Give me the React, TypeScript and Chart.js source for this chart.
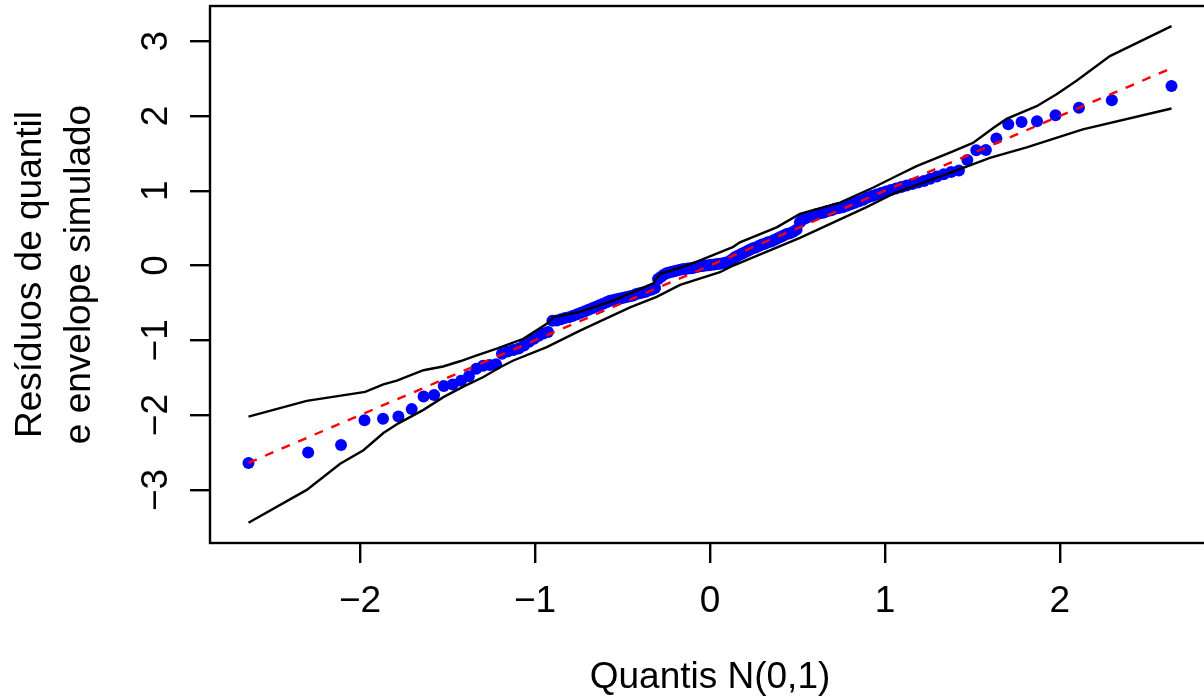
import { useEffect, useRef } from "react";
import { Chart, registerables } from "chart.js";

Chart.register(...registerables);

// Theoretical N(0,1) quantiles (x) of the 150 residuals
const quantiles = [
  -2.638, -2.297, -2.109, -1.975, -1.869, -1.781, -1.705, -1.637, -1.577, -1.522,
  -1.471, -1.423, -1.378, -1.336, -1.297, -1.259, -1.223, -1.189, -1.156, -1.124,
  -1.093, -1.063, -1.034, -1.006, -0.979, -0.952, -0.926, -0.901, -0.876, -0.852,
  -0.828, -0.805, -0.782, -0.759, -0.737, -0.715, -0.694, -0.673, -0.652, -0.632,
  -0.611, -0.591, -0.572, -0.552, -0.533, -0.514, -0.495, -0.476, -0.457, -0.439,
  -0.421, -0.403, -0.385, -0.367, -0.349, -0.331, -0.314, -0.297, -0.279, -0.262,
  -0.245, -0.228, -0.211, -0.194, -0.176, -0.159, -0.142, -0.126, -0.109, -0.092,
  -0.075, -0.058, -0.042, -0.025, -0.008,
  0.008, 0.025, 0.042, 0.058, 0.075, 0.092, 0.109, 0.126, 0.142, 0.159,
  0.176, 0.194, 0.211, 0.228, 0.245, 0.262, 0.279, 0.297, 0.314, 0.331,
  0.349, 0.367, 0.385, 0.403, 0.421, 0.439, 0.457, 0.476, 0.495, 0.514,
  0.533, 0.552, 0.572, 0.591, 0.611, 0.632, 0.652, 0.673, 0.694, 0.715,
  0.737, 0.759, 0.782, 0.805, 0.828, 0.852, 0.876, 0.901, 0.926, 0.952,
  0.979, 1.006, 1.034, 1.063, 1.093, 1.124, 1.156, 1.189, 1.223, 1.259,
  1.297, 1.336, 1.378, 1.423, 1.471, 1.522, 1.577, 1.637, 1.705, 1.781,
  1.869, 1.975, 2.109, 2.297, 2.638,
];

// Sorted quantile residuals (y)
const residuals = [
  -2.64, -2.5, -2.4, -2.07, -2.05, -2.02, -1.92, -1.75, -1.73, -1.61,
  -1.59, -1.54, -1.48, -1.38, -1.34, -1.33, -1.32, -1.18, -1.15, -1.13,
  -1.11, -1.07, -1.02, -0.98, -0.94, -0.91, -0.89, -0.74, -0.735, -0.72,
  -0.7, -0.69, -0.67, -0.65, -0.63, -0.61, -0.59, -0.57, -0.55, -0.53,
  -0.51, -0.49, -0.47, -0.46, -0.45, -0.44, -0.43, -0.42, -0.41, -0.4,
  -0.38, -0.37, -0.36, -0.35, -0.33, -0.32, -0.3, -0.18, -0.15, -0.12,
  -0.1, -0.09, -0.08, -0.07, -0.06, -0.05, -0.045, -0.04, -0.035, -0.03,
  -0.02, -0.01, -0.005, 0.0, 0.005,
  0.01, 0.015, 0.02, 0.025, 0.03, 0.04, 0.05, 0.08, 0.11, 0.13,
  0.15, 0.17, 0.19, 0.21, 0.23, 0.24, 0.26, 0.28, 0.29, 0.31,
  0.32, 0.34, 0.36, 0.38, 0.4, 0.42, 0.43, 0.45, 0.48, 0.58,
  0.62, 0.64, 0.66, 0.67, 0.69, 0.7, 0.71, 0.73, 0.74, 0.76,
  0.77, 0.78, 0.8, 0.82, 0.84, 0.86, 0.88, 0.91, 0.93, 0.95,
  0.97, 0.99, 1.01, 1.03, 1.05, 1.07, 1.09, 1.11, 1.13, 1.16,
  1.19, 1.22, 1.25, 1.27, 1.41, 1.54, 1.545, 1.7, 1.89, 1.92,
  1.93, 2.01, 2.11, 2.21, 2.4,
];

// Simulated envelope
const upperX = [
  -2.638, -2.305, -1.971, -1.867, -1.79, -1.638, -1.526, -1.429, -1.333, -1.219,
  -1.067, -0.933, -0.895, -0.743, -0.553, -0.324, -0.286, -0.171, -0.057, 0.133,
  0.171, 0.381, 0.514, 0.743, 0.931, 1.086, 1.181, 1.371, 1.503, 1.619,
  1.695, 1.867, 1.981, 2.095, 2.286, 2.638,
];
const upperY = [
  -2.02, -1.81, -1.69, -1.59, -1.54, -1.4, -1.35, -1.28, -1.2, -1.11,
  -0.98, -0.78, -0.69, -0.62, -0.47, -0.24, -0.11, -0.03, 0.07, 0.25,
  0.31, 0.51, 0.69, 0.84, 1.04, 1.22, 1.33, 1.51, 1.64, 1.84,
  1.96, 2.13, 2.29, 2.47, 2.8, 3.2,
];
const lowerX = [
  -2.638, -2.305, -2.114, -1.981, -1.867, -1.781, -1.638, -1.524, -1.41, -1.295,
  -1.2, -1.124, -0.933, -0.743, -0.457, -0.305, -0.171, 0.057, 0.133, 0.514,
  0.895, 1.048, 1.371, 1.6, 1.81, 2.131, 2.638,
];
const lowerY = [
  -3.44, -3.0, -2.65, -2.47, -2.24, -2.11, -1.93, -1.76, -1.62, -1.49,
  -1.36, -1.27, -1.09, -0.87, -0.56, -0.42, -0.26, -0.09, 0.0, 0.37,
  0.78, 0.96, 1.24, 1.44, 1.58, 1.82, 2.1,
];

// Reference (median) line
const refX = [-2.638, 2.638];
const refY = [-2.638, 2.638];

const xTicks = [-2, -1, 0, 1, 2];
const xTickLabels = ["\u22122", "\u22121", "0", "1", "2"];
const yTicks = [-3, -2, -1, 0, 1, 2, 3];
const yTickLabels = ["\u22123", "\u22122", "\u22121", "0", "1", "2", "3"];
const xRange = [-2.858, 2.858];
const yRange = [-3.71, 3.47];
const xTitle = "Quantis N(0,1)";
const yTitle = ["Resíduos de quantil", "e envelope simulado"];

const FONT = '"Liberation Sans", Arial, Helvetica, sans-serif';
const LW = 2.4;

const pts = (xs: number[], ys: number[]) => xs.map((x, i) => ({ x, y: ys[i] }));

const boxPlugin = {
  id: "rbox",
  afterDraw(chart: any) {
    const { ctx, chartArea: a, scales } = chart;
    ctx.save();
    ctx.strokeStyle = "#000";
    ctx.lineWidth = LW;
    ctx.strokeRect(a.left, a.top, a.right - a.left, a.bottom - a.top);
    const ys = scales.y;
    ctx.font = `37px ${FONT}`;
    ctx.fillStyle = "#000";
    ctx.textAlign = "center";
    ctx.textBaseline = "alphabetic";
    yTicks.forEach((v, i) => {
      const p = ys.getPixelForValue(v);
      ctx.save();
      ctx.translate(a.left - 43, p);
      ctx.rotate(-Math.PI / 2);
      ctx.fillText(yTickLabels[i], 0, 0);
      ctx.restore();
    });
    ctx.restore();
  },
};

export default function App() {
  const ref = useRef<HTMLCanvasElement | null>(null);
  useEffect(() => {
    if (!ref.current) return;
    Chart.defaults.font.family = FONT;
    const chart = new Chart(ref.current, {
      type: "scatter",
      data: {
        datasets: [
          {
            label: "ref",
            data: pts(refX, refY),
            showLine: true,
            borderColor: "#FF0000",
            borderWidth: LW,
            borderDash: [9, 9],
            pointRadius: 0,
            fill: false,
          },
          {
            label: "upper",
            data: pts(upperX, upperY),
            showLine: true,
            borderColor: "#000",
            borderWidth: LW,
            pointRadius: 0,
            fill: false,
          },
          {
            label: "lower",
            data: pts(lowerX, lowerY),
            showLine: true,
            borderColor: "#000",
            borderWidth: LW,
            pointRadius: 0,
            fill: false,
          },
          {
            label: "res",
            data: pts(quantiles, residuals),
            showLine: false,
            pointRadius: 6,
            pointBackgroundColor: "#0000FF",
            pointBorderWidth: 0,
            pointBorderColor: "#0000FF",
          },
        ],
      },
      options: {
        responsive: false,
        animation: false,
        layout: { padding: { top: 5, right: 10, left: 0, bottom: 0 } },
        plugins: { legend: { display: false }, tooltip: { enabled: false } },
        scales: {
          x: {
            type: "linear",
            position: "bottom",
            min: xRange[0],
            max: xRange[1],
            afterBuildTicks: (s: any) => {
              s.ticks = xTicks.map((v) => ({ value: v }));
            },
            afterFit: (s: any) => {
              s.height = 157;
            },
            border: { display: false },
            grid: {
              drawOnChartArea: false,
              drawTicks: true,
              tickLength: 20,
              color: "#000",
              lineWidth: LW,
            },
            ticks: {
              autoSkip: false,
              maxRotation: 0,
              minRotation: 0,
              padding: 17,
              color: "#000",
              font: { size: 37, family: FONT },
              callback: (_v: any, i: number) => xTickLabels[i],
            },
            title: {
              display: true,
              text: xTitle,
              color: "#000",
              font: { size: 37, family: FONT },
              padding: 0,
            },
          },
          y: {
            type: "linear",
            position: "left",
            min: yRange[0],
            max: yRange[1],
            afterBuildTicks: (s: any) => {
              s.ticks = yTicks.map((v) => ({ value: v }));
            },
            afterFit: (s: any) => {
              s.width = 210;
            },
            border: { display: false },
            grid: {
              drawOnChartArea: false,
              drawTicks: true,
              tickLength: 20,
              color: "#000",
              lineWidth: LW,
            },
            ticks: { display: false },
            title: {
              display: true,
              text: yTitle,
              color: "#000",
              font: { size: 37, family: FONT, lineHeight: 1.324 },
              padding: { top: 6, bottom: 0 },
            },
          },
        },
      },
      plugins: [boxPlugin],
    });
    return () => chart.destroy();
  }, []);

  return (
    <div
      style={{
        position: "fixed",
        left: 0,
        top: 0,
        width: 1204,
        height: 700,
        overflow: "hidden",
        background: "#fff",
      }}
    >
      <canvas ref={ref} width={1220} height={700} style={{ display: "block" }} />
    </div>
  );
}
